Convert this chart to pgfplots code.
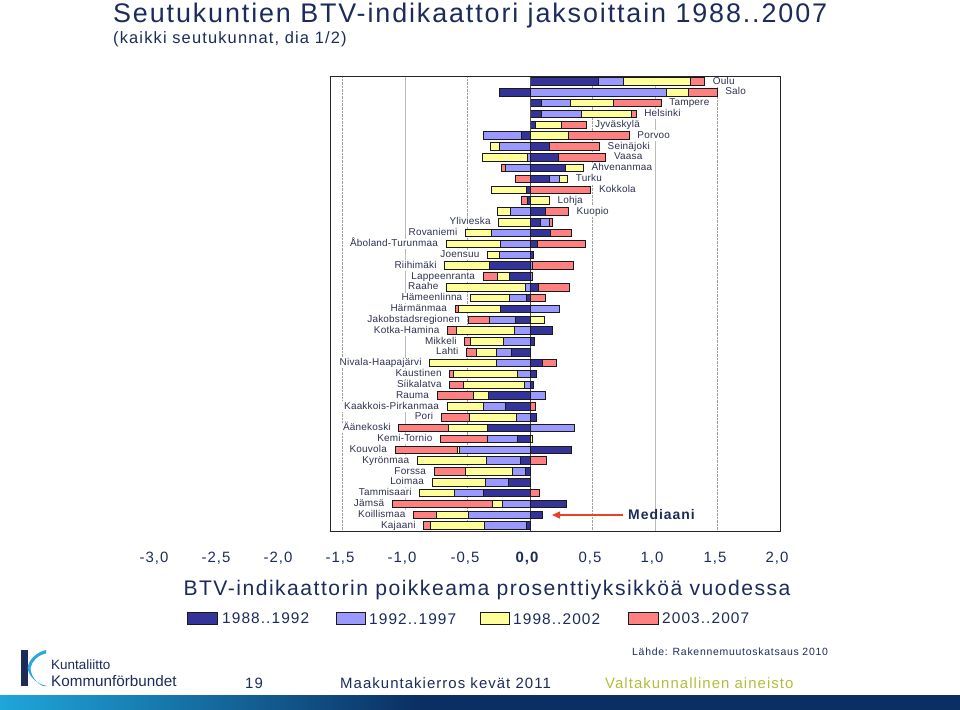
\documentclass[border=0pt]{standalone}
\usepackage{pgfplots}
\pgfplotsset{compat=1.18}
\usepackage{pgfplotstable}
\usepackage{fontspec}
\setmainfont{Liberation Sans}
\newfontfamily\fTitle[LetterSpace=7]{Liberation Sans}
\newfontfamily\fSp[LetterSpace=7]{Liberation Sans}
\newfontfamily\fLab[LetterSpace=2]{Liberation Sans}
\newfontfamily\fPlain{Liberation Sans}
\usetikzlibrary{arrows.meta}

\definecolor{cA}{HTML}{333399}
\definecolor{cB}{HTML}{9999FF}
\definecolor{cC}{HTML}{FFFF99}
\definecolor{cD}{HTML}{FF8080}
\definecolor{barline}{HTML}{1A1A1A}
\definecolor{cNavy}{HTML}{1C2B5A}
\definecolor{cLab}{HTML}{2E3250}
\definecolor{cOlive}{HTML}{B3BC3A}
\definecolor{cArrow}{HTML}{E8402A}
\definecolor{cGradL}{HTML}{1FA6DA}
\definecolor{cGradR}{HTML}{0B2F63}
\definecolor{cLogo}{HTML}{29A9DF}

% columns: a = 1988..1992, b = 1992..1997, c = 1998..2002, d = 2003..2007
\pgfplotstableread{
y a b c d
0 0.548 0.200 0.535 0.115
1 -0.246 1.088 0.182 0.227
2 0.094 0.227 0.348 0.380
3 0.094 0.320 0.400 0.035
4 0.045 0 0.210 0.200
5 -0.067 -0.307 0.307 0.487
6 0.152 -0.246 -0.070 0.404
7 0.227 -0.020 -0.360 0.380
8 0.280 -0.193 0.147 -0.035
9 0.152 0.083 0.067 -0.118
10 -0.027 0 -0.280 0.487
11 -0.020 0 0.155 -0.048
12 0.126 -0.160 -0.100 0.182
13 0.086 0.070 -0.250 0.027
14 0.166 -0.307 -0.209 0.163
15 0.059 -0.235 -0.436 0.388
16 0.025 -0.246 -0.094 0
17 -0.326 0.020 -0.356 0.330
18 -0.168 0.020 -0.091 -0.115
19 0.067 -0.040 -0.628 0.249
20 -0.027 -0.139 -0.310 0.120
21 -0.233 0.233 -0.342 -0.024
22 -0.115 -0.206 0.115 -0.174
23 0.182 -0.128 -0.460 -0.072
24 0.032 -0.209 -0.267 -0.045
25 -0.152 -0.120 -0.155 -0.080
26 0.096 -0.267 -0.535 0.118
27 0.048 -0.100 -0.510 -0.032
28 0.027 -0.048 -0.487 -0.107
29 -0.334 0.120 -0.120 -0.289
30 -0.195 -0.174 -0.294 0.040
31 0.053 -0.107 -0.380 -0.222
32 -0.340 0.356 -0.316 -0.393
33 -0.100 -0.238 0.020 -0.377
34 0.329 -0.567 -0.016 -0.497
35 -0.075 -0.273 -0.553 0.134
36 -0.035 -0.104 -0.377 -0.251
37 -0.174 -0.179 -0.430 0
38 -0.369 -0.238 -0.275 0.072
39 0.289 -0.219 -0.083 -0.800
40 0.096 -0.492 -0.257 -0.182
41 -0.027 -0.340 -0.430 -0.053
}\btv

\pgfplotsset{
  base/.style={
    at={(330bp,-76bp)}, anchor=north west,
    width=450bp, height=455bp, scale only axis,
    xmin=-1.6, xmax=2.0, ymin=-0.5, ymax=41.5, y dir=reverse,
    xbar stacked, bar width=7.5bp,
    every axis plot/.append style={draw=barline, line width=0.8bp},
  },
}
\tikzset{
  lab/.style={font=\fLab\fontsize{10}{12}\selectfont, text=cLab, fill=white,
    inner xsep=2bp, inner ysep=0.5bp, text height=7.2bp, text depth=2bp},
  rl/.style={lab, anchor=west, xshift=6bp},
  ll/.style={lab, anchor=east, xshift=-6bp},
}

\begin{document}
\begin{tikzpicture}[x=1bp, y=-1bp]
\path[use as bounding box] (0,0) rectangle (960,710);

% title
\node[anchor=base west, inner sep=0, text=cNavy, font=\fTitle\fontsize{27}{30}\selectfont] at (113,23) {Seutukuntien BTV-indikaattori jaksoittain 1988..2007};
\node[anchor=base west, inner sep=0, text=cNavy, font=\fTitle\fontsize{16.5}{20}\selectfont] at (113,44) {(kaikki seutukunnat, dia 1/2)};

% positive parts
\begin{axis}[base,
  axis line style={draw=none},
  xtick={-1.5,-0.5,0.5,1.5}, xticklabel=\empty,
  xmajorgrids, major grid style={gray!75, densely dotted, line width=0.8bp},
  extra x ticks={-1,1}, extra x tick labels={},
  extra x tick style={grid=major, major grid style={solid, gray!55, line width=0.8bp}},
  ytick=\empty, major tick length=0pt]
\draw[gray!60!black, line width=1bp] (axis cs:0,-0.5) -- (axis cs:0,41.5);
\addplot[fill=cA] table[y=y, x expr={max(\thisrow{a},0)}] {\btv};
\addplot[fill=cB] table[y=y, x expr={max(\thisrow{b},0)}] {\btv};
\addplot[fill=cC] table[y=y, x expr={max(\thisrow{c},0)}] {\btv};
\addplot[fill=cD] table[y=y, x expr={max(\thisrow{d},0)}] {\btv};
\end{axis}

% negative parts, frame and labels
\begin{axis}[base, hide axis, clip=false]
\addplot[fill=cA] table[y=y, x expr={min(\thisrow{a},0)}] {\btv};
\addplot[fill=cB] table[y=y, x expr={min(\thisrow{b},0)}] {\btv};
\addplot[fill=cC] table[y=y, x expr={min(\thisrow{c},0)}] {\btv};
\addplot[fill=cD] table[y=y, x expr={min(\thisrow{d},0)}] {\btv};
\draw[black!85, line width=0.8bp] (rel axis cs:0,0) rectangle (rel axis cs:1,1);
% right-hand labels
\node[rl] at (axis cs:1.398,0) {Oulu};
\node[rl] at (axis cs:1.497,1) {Salo};
\node[rl] at (axis cs:1.049,2) {Tampere};
\node[rl] at (axis cs:0.849,3) {Helsinki};
\node[rl] at (axis cs:0.455,4) {Jyväskylä};
\node[rl] at (axis cs:0.794,5) {Porvoo};
\node[rl] at (axis cs:0.556,6) {Seinäjoki};
\node[rl] at (axis cs:0.607,7) {Vaasa};
\node[rl] at (axis cs:0.427,8) {Ahvenanmaa};
\node[rl] at (axis cs:0.302,9) {Turku};
\node[rl] at (axis cs:0.487,10) {Kokkola};
\node[rl] at (axis cs:0.155,11) {Lohja};
\node[rl] at (axis cs:0.308,12) {Kuopio};
% left-hand labels
\node[ll] at (axis cs:-0.250,13) {Ylivieska};
\node[ll] at (axis cs:-0.516,14) {Rovaniemi};
\node[ll] at (axis cs:-0.671,15) {Åboland-Turunmaa};
\node[ll] at (axis cs:-0.340,16) {Joensuu};
\node[ll] at (axis cs:-0.682,17) {Riihimäki};
\node[ll] at (axis cs:-0.374,18) {Lappeenranta};
\node[ll] at (axis cs:-0.668,19) {Raahe};
\node[ll] at (axis cs:-0.476,20) {Hämeenlinna};
\node[ll] at (axis cs:-0.599,21) {Härmänmaa};
\node[ll] at (axis cs:-0.495,22) {Jakobstadsregionen};
\node[ll] at (axis cs:-0.660,23) {Kotka-Hamina};
\node[ll] at (axis cs:-0.521,24) {Mikkeli};
\node[ll] at (axis cs:-0.507,25) {Lahti};
\node[ll] at (axis cs:-0.802,26) {Nivala-Haapajärvi};
\node[ll] at (axis cs:-0.642,27) {Kaustinen};
\node[ll] at (axis cs:-0.642,28) {Siikalatva};
\node[ll] at (axis cs:-0.743,29) {Rauma};
\node[ll] at (axis cs:-0.663,30) {Kaakkois-Pirkanmaa};
\node[ll] at (axis cs:-0.709,31) {Pori};
\node[ll] at (axis cs:-1.049,32) {Äänekoski};
\node[ll] at (axis cs:-0.715,33) {Kemi-Tornio};
\node[ll] at (axis cs:-1.080,34) {Kouvola};
\node[ll] at (axis cs:-0.901,35) {Kyrönmaa};
\node[ll] at (axis cs:-0.767,36) {Forssa};
\node[ll] at (axis cs:-0.783,37) {Loimaa};
\node[ll] at (axis cs:-0.882,38) {Tammisaari};
\node[ll] at (axis cs:-1.102,39) {Jämsä};
\node[ll] at (axis cs:-0.931,40) {Koillismaa};
\node[ll] at (axis cs:-0.850,41) {Kajaani};
\end{axis}

% Mediaani annotation
\draw[cArrow, line width=1.3bp, -{Triangle[length=8bp, width=7bp]}] (623,515) -- (552,515);
\node[anchor=west, inner sep=0, text=cNavy, font=\fSp\bfseries\fontsize{14}{16}\selectfont] at (628,515) {Mediaani};

% tick labels
\begin{scope}[every node/.style={text=cNavy, font=\fSp\fontsize{15}{18}\selectfont, inner sep=0}]
\node at (154,558) {-3,0};
\node at (216,558) {-2,5};
\node at (278,558) {-2,0};
\node at (340,558) {-1,5};
\node at (402,558) {-1,0};
\node at (465,558) {-0,5};
\node at (527,558) {\bfseries 0,0};
\node at (590,558) {0,5};
\node at (652,558) {1,0};
\node at (715,558) {1,5};
\node at (777,558) {2,0};
\end{scope}

% axis title
\node[text=cNavy, font=\fSp\fontsize{21.2}{24}\selectfont, inner sep=0] at (487,590) {BTV-indikaattorin poikkeama prosenttiyksikköä vuodessa};

% legend
\begin{scope}[every node/.style={text=cNavy, font=\fSp\fontsize{15.5}{18}\selectfont, inner sep=0, anchor=west}]
\draw[barline, line width=0.8bp, fill=cA] (187,612) rectangle (217,624);
\node at (222,618) {1988..1992};
\draw[barline, line width=0.8bp, fill=cB] (336,612) rectangle (365,624);
\node at (369,619) {1992..1997};
\draw[barline, line width=0.8bp, fill=cC] (480,612) rectangle (509,624);
\node at (513,619) {1998..2002};
\draw[barline, line width=0.8bp, fill=cD] (628,612) rectangle (658,624);
\node at (662,618) {2003..2007};
\end{scope}

% source
\node[anchor=west, inner sep=0, text=cNavy, font=\fSp\fontsize{10.5}{12}\selectfont] at (632,652) {Lähde: Rakennemuutoskatsaus 2010};

% footer
\node[anchor=west, inner sep=0, text=cNavy, font=\fSp\fontsize{15}{18}\selectfont] at (245,683) {19};
\node[anchor=west, inner sep=0, text=cNavy, font=\fSp\fontsize{15}{18}\selectfont] at (340,683) {Maakuntakierros kevät 2011};
\node[anchor=west, inner sep=0, text=cOlive, font=\fSp\fontsize{15}{18}\selectfont] at (605,683) {Valtakunnallinen aineisto};
\shade[left color=cGradL, right color=cGradR] (0,695) rectangle (420,710);
\fill[cGradR] (419.5,695) rectangle (960,710);

% logo
\fill[cNavy] (21,650) rectangle (27.5,686);
\fill[cLogo] (46,650) .. controls (37,652) and (29,659) .. (27.5,668)
  .. controls (29,677) and (37,684) .. (47,686) -- (43,686)
  .. controls (36,683) and (31,676) .. (30.5,668)
  .. controls (32,661) and (38,655) .. (46,653.5) -- cycle;
\node[anchor=west, inner sep=0, text=cNavy, font=\fPlain\fontsize{13.5}{16}\selectfont] at (51,665) {Kuntaliitto};
\node[anchor=west, inner sep=0, text=cNavy, font=\fPlain\fontsize{15.3}{18}\selectfont] at (51,681) {Kommunförbundet};
\end{tikzpicture}
\end{document}
